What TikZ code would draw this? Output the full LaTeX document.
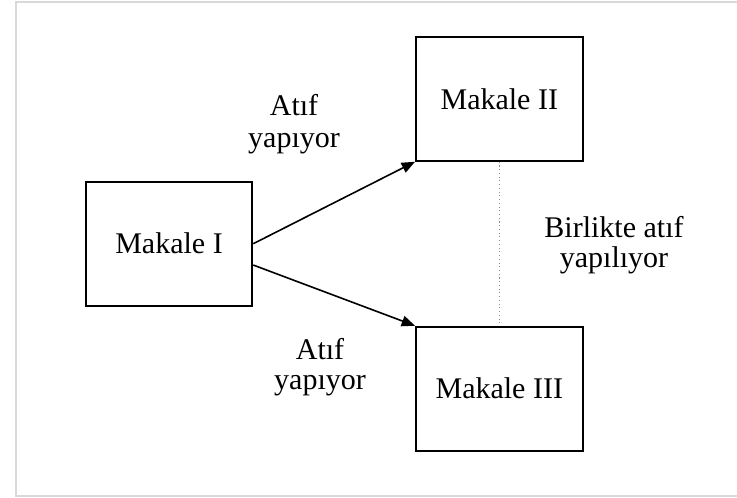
\documentclass[tikz,border=0pt]{standalone}
\usepackage{fontspec}
\setmainfont{Liberation Serif}
\usetikzlibrary{arrows.meta,calc}
\begin{document}
\begin{tikzpicture}[x=0.75pt,y=-0.75pt,
  box/.style={draw=black,line width=1.4pt,minimum width=125pt,minimum height=93pt,inner sep=0pt,font=\fontsize{22.5}{22.5}\selectfont},
  lbl/.style={align=center,inner sep=0pt,font=\fontsize{22.5}{22.5}\selectfont},
  arr/.style={line width=1.2pt,-{Triangle[length=10pt,width=8pt]}},
  frame/.style={draw=black!15,line width=1.5pt}]
\useasboundingbox (0,0) rectangle (737,497);
\draw[frame] (737,1.5) -- (16,1.5) -- (16,495.5) -- (737,495.5);
\node[box] (m1) at (169,243.7) {Makale I};
\node[box] (m2) at (499.3,98.8) {Makale II};
\node[box] (m3) at (499.3,388.7) {Makale III};
\node[lbl,font=\fontsize{22.5}{24}\selectfont] (l1) at (294,124) {Atıf\\yapıyor};
\node[lbl] (l2) at (320,367) {Atıf\\yapıyor};
\node[lbl] (l3) at (614,245) {Birlikte atıf\\yapılıyor};
\draw[arr] (m1.east) -- (m2.south west);
\draw[arr] ([yshift=-16pt]m1.east) -- (m3.north west);
\draw[black!45,line width=0.8pt,dotted] (m2.south) -- (m3.north);
\end{tikzpicture}
\end{document}
